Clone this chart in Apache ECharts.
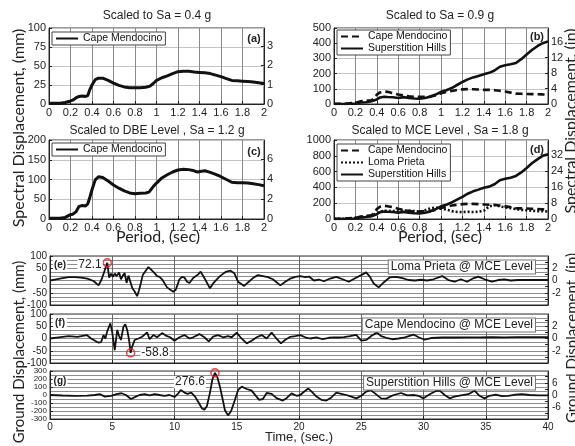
<!DOCTYPE html>
<html><head><meta charset="utf-8">
<script src="https://cdn.jsdelivr.net/npm/echarts@6/dist/echarts.min.js"></script>
<style>html,body{margin:0;padding:0;background:#fff}#c{width:575px;height:446px}</style>
</head><body><div id="c"></div><script>
// ---------- DATA ----------
// Spectral displacement (mm) vs period (s)
const capeA = [[0,1],[0.1,1],[0.15,2],[0.2,4],[0.22,5],[0.25,8],[0.28,10],[0.31,10.5],[0.34,10],[0.36,11],[0.38,19],[0.4,25],[0.43,32],[0.46,34],[0.5,34],[0.55,31],[0.6,27.5],[0.65,24.5],[0.7,22.5],[0.75,21.5],[0.8,21.5],[0.85,21.5],[0.9,22],[0.94,23.5],[0.97,27],[1.0,31],[1.05,34.5],[1.1,37],[1.15,40],[1.2,42.5],[1.25,43],[1.3,43],[1.35,42],[1.4,41.5],[1.45,41],[1.5,40],[1.55,38],[1.6,36],[1.65,33.5],[1.7,31],[1.75,30.5],[1.8,30],[1.85,29.5],[1.9,29],[1.95,28],[2.0,27]];
const capeB = [[0,2],[0.1,2],[0.2,8],[0.25,18],[0.3,22],[0.35,24],[0.38,40],[0.4,62],[0.43,76],[0.47,82],[0.5,80],[0.55,72],[0.6,62],[0.65,56],[0.7,51],[0.75,47],[0.8,47],[0.85,48],[0.9,50],[0.95,56],[1.0,70],[1.05,79],[1.1,86],[1.15,92],[1.2,96],[1.25,98],[1.3,97],[1.35,95],[1.4,93],[1.45,93],[1.5,91],[1.55,87],[1.6,82],[1.65,75],[1.7,68],[1.75,67],[1.8,66],[1.85,65],[1.9,64],[1.95,63],[2.0,61]];
const superB = [[0,0],[0.1,1],[0.2,3],[0.25,10],[0.3,12],[0.35,18],[0.4,30],[0.43,43],[0.47,48],[0.5,46],[0.55,44],[0.6,40],[0.65,45],[0.7,40],[0.75,36],[0.8,35],[0.85,40],[0.9,48],[0.95,62],[1.0,80],[1.05,90],[1.1,105],[1.15,125],[1.2,145],[1.25,162],[1.3,175],[1.35,185],[1.4,195],[1.45,205],[1.5,220],[1.55,245],[1.6,255],[1.65,262],[1.7,270],[1.75,295],[1.8,325],[1.85,355],[1.9,380],[1.95,400],[2.0,412]];
const capeC = [[0,2],[0.1,2],[0.15,4],[0.2,11],[0.22,12],[0.25,18],[0.28,32],[0.31,34],[0.34,33],[0.36,38],[0.38,55],[0.4,74],[0.43,99],[0.46,107],[0.5,105],[0.55,96],[0.6,86],[0.65,78],[0.7,71],[0.75,66],[0.8,64],[0.85,65],[0.9,66],[0.93,68],[0.97,82],[1.0,91],[1.05,104],[1.1,112],[1.15,119],[1.2,124],[1.25,126],[1.3,125],[1.35,122],[1.38,119],[1.42,121],[1.45,122],[1.5,118],[1.55,113],[1.6,107],[1.65,100],[1.7,93],[1.75,92],[1.8,92],[1.85,91],[1.9,89],[1.95,87],[2.0,84]];
const capeD = [[0,3],[0.1,4],[0.2,15],[0.25,30],[0.3,40],[0.35,48],[0.38,80],[0.4,125],[0.43,155],[0.47,167],[0.5,162],[0.55,150],[0.6,130],[0.65,115],[0.7,102],[0.75,95],[0.8,95],[0.85,97],[0.9,100],[0.95,115],[1.0,140],[1.05,155],[1.1,170],[1.15,180],[1.2,188],[1.25,192],[1.3,192],[1.35,188],[1.4,184],[1.45,180],[1.5,178],[1.55,170],[1.6,160],[1.65,150],[1.7,136],[1.75,134],[1.8,132],[1.85,129],[1.9,126],[1.95,122],[2.0,116]];
const lomaD = [[0,2],[0.1,3],[0.2,12],[0.25,22],[0.3,28],[0.35,40],[0.4,75],[0.45,100],[0.5,105],[0.55,100],[0.6,98],[0.65,105],[0.7,108],[0.75,100],[0.8,92],[0.85,110],[0.9,135],[0.95,145],[1.0,130],[1.05,118],[1.1,100],[1.15,90],[1.2,88],[1.25,92],[1.3,88],[1.35,92],[1.4,105],[1.45,160],[1.5,178],[1.55,160],[1.6,148],[1.65,138],[1.7,125],[1.75,115],[1.8,110],[1.85,105],[1.9,98],[1.95,100],[2.0,95]];
const superD = [[0,0],[0.1,2],[0.2,6],[0.25,20],[0.3,25],[0.35,36],[0.4,60],[0.43,86],[0.47,96],[0.5,92],[0.55,88],[0.6,80],[0.65,90],[0.7,80],[0.75,72],[0.8,70],[0.85,80],[0.9,96],[0.95,124],[1.0,160],[1.05,180],[1.1,210],[1.15,245],[1.2,280],[1.25,320],[1.3,350],[1.35,372],[1.4,395],[1.45,410],[1.5,440],[1.55,490],[1.6,510],[1.65,522],[1.7,545],[1.75,590],[1.8,645],[1.85,705],[1.9,755],[1.95,800],[2.0,820]];
// Ground displacement histories (mm) vs time (s)
const lomaHist = [[0,0],[0.5,5],[1.0,10],[1.5,14],[2.0,14],[2.5,12],[3.0,8],[3.5,-2],[3.9,-20],[4.15,5],[4.35,35],[4.6,72],[4.75,12],[4.9,28],[5.05,15],[5.2,28],[5.35,18],[5.55,33],[5.7,5],[5.85,20],[6.0,30],[6.15,-10],[6.3,20],[6.6,-30],[6.8,-45],[7.0,-64],[7.15,-40],[7.3,-10],[7.45,22],[7.6,18],[7.9,55],[8.1,45],[8.4,30],[8.6,18],[8.8,15],[9.0,5],[9.4,-28],[9.9,-46],[10.1,-38],[10.4,5],[10.6,15],[10.8,12],[11.0,-5],[11.2,-10],[11.5,10],[11.9,25],[12.1,36],[12.4,10],[12.85,-32],[13.1,-12],[13.4,5],[13.7,20],[14.1,35],[14.5,40],[14.8,30],[15.1,-5],[15.6,-22],[15.9,-8],[16.3,10],[16.7,22],[17.1,18],[17.5,14],[17.9,5],[18.5,-20],[18.9,-5],[19.3,8],[19.7,15],[20.1,18],[20.5,14],[20.8,16],[21.2,0],[21.6,4],[22.0,-3],[22.5,8],[23.0,15],[23.5,5],[24.0,-5],[24.5,9],[25.0,22],[25.4,33],[25.7,15],[26.0,-12],[26.4,-28],[26.8,-8],[27.3,13],[27.8,15],[28.3,10],[28.8,2],[29.3,0],[29.8,3],[30.3,0],[30.8,5],[31.5,18],[32.0,2],[32.5,-5],[33.0,5],[33.5,-5],[34.0,9],[34.4,16],[34.9,5],[35.5,-5],[36.0,2],[36.5,5],[37.0,0],[37.6,2],[38.2,2],[39.0,2],[40.0,2]];
const capeHist = [[0,0],[0.7,5],[1.5,10],[2.2,7],[2.95,14],[3.3,0],[3.9,-17],[4.1,-15],[4.3,14],[4.45,0],[4.6,30],[4.85,62],[5.0,25],[5.2,-48],[5.4,35],[5.55,10],[5.7,-6],[5.9,48],[6.05,58],[6.2,35],[6.35,-6],[6.48,-58.8],[6.6,-33],[6.8,-6],[7.1,0],[7.4,7],[7.8,25],[8.0,-3],[8.3,14],[8.6,5],[9.0,22],[9.3,12],[9.65,5],[10.0,-9],[10.4,5],[10.8,14],[11.2,0],[11.5,5],[12.0,18],[12.4,5],[12.75,-12],[13.1,8],[13.5,14],[13.9,5],[14.3,10],[14.6,5],[15.0,24],[15.3,5],[15.8,-20],[16.2,-9],[16.6,5],[17.0,14],[17.4,0],[17.8,24],[18.1,5],[18.55,-20],[18.9,-5],[19.3,7],[19.7,10],[20.1,14],[20.5,5],[20.9,0],[21.4,5],[21.9,-3],[22.4,3],[22.8,5],[23.2,4],[23.6,6],[24.1,10],[24.6,15],[25.0,-9],[25.4,-6],[25.8,10],[26.25,24],[26.6,10],[27.0,3],[27.5,-3],[28.0,0],[28.5,5],[29.2,16],[29.6,5],[30.1,-5],[30.6,2],[31.5,4],[32.5,4],[33.5,5],[34.5,5],[35.5,6],[36.5,5],[37.5,6],[38.5,6],[40,6]];
const superHist = [[0,0],[1,-6],[2,-10],[3,-8],[3.6,0],[4.0,12],[4.4,-20],[4.9,-12],[5.35,12],[5.75,22],[6.1,0],[6.5,-50],[6.9,-20],[7.2,0],[7.6,12],[8.0,-5],[8.4,12],[8.8,0],[9.2,-10],[9.6,0],[10.0,-25],[10.25,10],[10.5,62],[10.8,30],[11.05,15],[11.35,29],[11.65,-20],[11.9,-85],[12.2,-165],[12.4,-185],[12.6,-140],[12.85,30],[13.05,200],[13.25,276.6],[13.45,220],[13.65,104],[13.85,-40],[14.05,-190],[14.3,-255],[14.55,-200],[14.85,-62],[15.1,60],[15.4,104],[15.8,75],[16.2,54],[16.5,-5],[16.8,-60],[17.1,-50],[17.4,25],[17.8,15],[18.2,-40],[18.7,-70],[19.0,-40],[19.4,20],[19.8,-10],[20.1,0],[20.4,40],[20.75,80],[21.0,45],[21.4,-20],[21.8,-60],[22.2,-70],[22.6,-30],[23.0,30],[23.4,15],[23.8,0],[24.2,-20],[24.6,-42],[25.0,-10],[25.4,42],[25.75,62],[26.1,20],[26.6,-42],[27.0,-45],[27.6,0],[28.2,25],[28.7,-5],[29.2,0],[29.6,-10],[30.0,-42],[30.5,10],[31.0,50],[31.3,54],[31.7,0],[32.1,-42],[32.5,-20],[33.0,-5],[33.6,10],[34.1,54],[34.5,-10],[34.9,-42],[35.3,-10],[35.8,5],[36.3,-15],[36.8,-10],[37.4,5],[37.9,10],[38.5,0],[39.2,-5],[40,-5]];
// Peak markers
const peakLoma = [[4.6,72.1]];
const peakCape = [[6.48,-58.8]];
const peakSuper = [[13.25,276.6]];
// Axis tick settings
const topYMax = [100,500,200,1000];
const topYInt = [25,100,50,200];
const topInTicks = [[0,1,2,3],[0,4,8,12,16],[0,2,4,6],[0,8,16,24,32]];
const botYMax = [100,100,300];
const botYInt = [50,50,100];
const botMinor = [3,3,2];
const botMmLabels = [[-100,-50,0,50,100],[-100,-50,0,50,100],[-300,-200,-100,0,100,200,300]];
const botInLabels = [[-2,0,2],[-2,0,2],[-6,0,6]];
const botInTicks = [[-3,-2,-1,0,1,2,3],[-3,-2,-1,0,1,2,3],[-9,-6,-3,0,3,6,9]];

// ---------- CHART ----------
const F = '"Liberation Sans", Arial, sans-serif';
const LATO = 'Lato, "Open Sans", sans-serif';
const MM2IN = 25.4;
const chart = echarts.init(document.getElementById('c'), null, {renderer:'canvas'});

const gridBoxes = [
  {left:49, top:28, width:215, height:76},
  {left:334, top:28, width:214, height:76},
  {left:49, top:140, width:215, height:79},
  {left:334, top:140, width:214, height:79},
  {left:50, top:256, width:498, height:49},
  {left:50, top:314, width:498, height:49},
  {left:50, top:371, width:498, height:48}
];
const grid = gridBoxes.map(g => Object.assign({show:true, borderColor:'#333', borderWidth:1, backgroundColor:'#fff', containLabel:false}, g));

const plain = v => String(Math.round(v * 1000) / 1000);
const axisLineS = {show:true, onZero:false, lineStyle:{color:'#222', width:1}};
const xAxis = [], yAxis = [];
for (let i = 0; i < 4; i++) {
  xAxis.push({type:'value', gridIndex:i, min:0, max:2, interval:0.2,
    axisLine:axisLineS, axisTick:{inside:true, length:3, lineStyle:{color:'#222'}},
    axisLabel:{fontSize:11, color:'#222', fontFamily:F, margin:3, formatter:v => String(Math.round(v*10)/10)},
    splitLine:{show:true, lineStyle:{color:'#8a8a8a', width:1}}});
  yAxis.push({type:'value', gridIndex:i, position:'left', min:0, max:topYMax[i], interval:topYInt[i],
    axisLine:axisLineS, axisTick:{show:true, inside:true, length:3, lineStyle:{color:'#222'}},
    axisLabel:{fontSize:11, color:'#222', fontFamily:F, margin:3, formatter:plain, showMinLabel:true, showMaxLabel:true},
    splitLine:{show:true, lineStyle:{color:'#c4c4c4', width:1}}});
  yAxis.push({type:'value', gridIndex:i, position:'right', min:0, max:topYMax[i]/MM2IN,
    axisLine:axisLineS, axisTick:{show:true, inside:true, length:3, customValues:topInTicks[i], lineStyle:{color:'#222'}},
    axisLabel:{fontSize:11, color:'#222', fontFamily:F, margin:3, customValues:topInTicks[i], formatter:plain},
    splitLine:{show:false}});
}
for (let j = 0; j < 3; j++) {
  const gi = 4 + j;
  xAxis.push({type:'value', gridIndex:gi, min:0, max:40, interval:5,
    axisLine:axisLineS, axisTick:{inside:true, length:3, lineStyle:{color:'#222'}},
    axisLabel:{show:j===2, fontSize:10, color:'#222', fontFamily:F, margin:3},
    splitLine:{show:true, lineStyle:{color:'#666', width:1}}});
  yAxis.push({type:'value', gridIndex:gi, position:'left', min:-botYMax[j], max:botYMax[j], interval:botYInt[j],
    axisLine:axisLineS, axisTick:{show:true, inside:true, length:3, lineStyle:{color:'#222'}},
    axisLabel:{fontSize:j===2?8:10, color:'#222', fontFamily:F, margin:3, formatter:plain,
      customValues:botMmLabels[j], showMinLabel:true, showMaxLabel:true, hideOverlap:false, lineHeight:7},
    minorTick:{show:false, splitNumber:botMinor[j]},
    minorSplitLine:{show:true, lineStyle:{color:'#8c8c8c', width:1}},
    splitLine:{show:true, lineStyle:{color:'#8c8c8c', width:1}}});
  yAxis.push({type:'value', gridIndex:gi, position:'right', min:-botYMax[j]/MM2IN, max:botYMax[j]/MM2IN,
    axisLine:axisLineS, axisTick:{show:true, inside:true, length:3, customValues:botInTicks[j], lineStyle:{color:'#222'}},
    axisLabel:{fontSize:10, color:'#222', fontFamily:F, margin:4, customValues:botInLabels[j], formatter:plain},
    splitLine:{show:false}});
}

function line(name, data, gi, type, width) {
  return {type:'line', name:name, data:data, xAxisIndex:gi, yAxisIndex:gi*2, showSymbol:false, symbol:'none',
    lineStyle:{color:'#111', width:width, type:type}, itemStyle:{color:'#111'}, z:3, silent:true};
}
function peak(data, gi) {
  return {type:'scatter', data:data, xAxisIndex:gi, yAxisIndex:gi*2, symbol:'circle', symbolSize:8,
    itemStyle:{color:'rgba(255,255,255,0)', borderColor:'#e8202a', borderWidth:1.6}, z:6, silent:true};
}
const series = [
  line('Cape Mendocino#a', capeA, 0, 'solid', 3),
  line('Cape Mendocino#b', capeB, 1, [7,4], 2.6),
  line('Superstition Hills#b', superB, 1, 'solid', 2.6),
  line('Cape Mendocino#c', capeC, 2, 'solid', 3),
  line('Cape Mendocino#d', capeD, 3, [7,4], 2.6),
  line('Loma Prieta#d', lomaD, 3, [2,2], 2.6),
  line('Superstition Hills#d', superD, 3, 'solid', 2.6),
  line('Loma Prieta#e', lomaHist, 4, 'solid', 1.8),
  line('Cape Mendocino#f', capeHist, 5, 'solid', 1.8),
  line('Superstition Hills#g', superHist, 6, 'solid', 1.8),
  peak(peakLoma, 4), peak(peakCape, 5), peak(peakSuper, 6)
];

const legendBase = {orient:'vertical', backgroundColor:'#fff', borderColor:'#444', borderWidth:1, borderRadius:0,
  padding:[1,3,1,3], itemWidth:22, itemHeight:13, itemGap:1, selectedMode:false,
  itemStyle:{color:'rgba(0,0,0,0)', borderColor:'rgba(0,0,0,0)', borderWidth:0, opacity:0},
  textStyle:{fontSize:10.5, fontFamily:F, color:'#111'}, formatter:n => n.split('#')[0], z:8};
const legend = [
  Object.assign({left:52, top:32, data:['Cape Mendocino#a']}, legendBase),
  Object.assign({left:337, top:30, data:['Cape Mendocino#b','Superstition Hills#b']}, legendBase),
  Object.assign({left:52, top:143, data:['Cape Mendocino#c']}, legendBase),
  Object.assign({left:337, top:144, data:['Cape Mendocino#d','Loma Prieta#d','Superstition Hills#d']}, legendBase)
];

function T(x, y, text, font, opt) {
  opt = opt || {};
  return {type:'text', x:x, y:y, z:100, rotation:opt.rot || 0,
    style:Object.assign({text:text, font:font, fill:'#222', align:opt.align || 'center', verticalAlign:'middle',
      textAlign:opt.align || 'center', textVerticalAlign:'middle'}, opt.style || {})};
}
const boxStyle = {backgroundColor:'#fff', borderColor:'#777', borderWidth:1, padding:[1,2,0,2]};
const graphic = [
  T(157, 16, 'Scaled to Sa = 0.4 g', '12px ' + F),
  T(440, 16, 'Scaled to Sa = 0.9 g', '12px ' + F),
  T(157, 131, 'Scaled to DBE Level , Sa = 1.2 g', '12px ' + F),
  T(440, 131, 'Scaled to MCE Level , Sa = 1.8 g', '12px ' + F),
  T(254, 39, '(a)', 'bold 11px ' + F),
  T(537, 37, '(b)', 'bold 11px ' + F),
  T(254, 152, '(c)', 'bold 11px ' + F),
  T(537, 150, '(d)', 'bold 11px ' + F),
  T(158, 237, 'Period, (sec)', '16px ' + LATO),
  T(440, 237, 'Period, (sec)', '16px ' + LATO),
  T(19, 128, 'Spectral Displacement, (mm)', '16px ' + LATO, {rot:Math.PI/2}),
  T(571, 121, 'Spectral Displacement, (in)', '16px ' + LATO, {rot:Math.PI/2}),
  T(19, 352, 'Ground Displacement, (mm)', '15px ' + LATO, {rot:Math.PI/2}),
  T(572, 338, 'Ground Displacement, (in)', '15px ' + LATO, {rot:Math.PI/2}),
  T(299, 437, 'Time, (sec.)', '13px ' + F),
  T(60, 265, '(e)', 'bold 10px ' + F, {style:{backgroundColor:'#fff', padding:[0,1,0,1]}}),
  T(60, 323, '(f)', 'bold 10px ' + F, {style:{backgroundColor:'#fff', padding:[0,2,0,2]}}),
  T(60, 381, '(g)', 'bold 10px ' + F, {style:{backgroundColor:'#fff', padding:[0,1,0,1]}}),
  T(90, 265, '72.1', '12px ' + F, {style:{backgroundColor:'#fff', padding:[0,1,0,1]}}),
  T(155, 353, '-58.8', '12px ' + F, {style:{backgroundColor:'#fff', padding:[0,1,0,1]}}),
  T(190, 382, '276.6', '12px ' + F, {style:{backgroundColor:'#fff', padding:[0,1,0,1]}}),
  T(535, 267, 'Loma Prieta @ MCE Level', '12px ' + F, {align:'right', style:boxStyle}),
  T(535, 325, 'Cape Mendocino @ MCE Level', '12px ' + F, {align:'right', style:boxStyle}),
  T(535, 383, 'Superstition Hills @ MCE Level', '12px ' + F, {align:'right', style:boxStyle})
];

chart.setOption({animation:false, backgroundColor:'#fff', grid:grid, xAxis:xAxis, yAxis:yAxis,
  series:series, legend:legend, graphic:{elements:graphic}});
</script></body></html>
